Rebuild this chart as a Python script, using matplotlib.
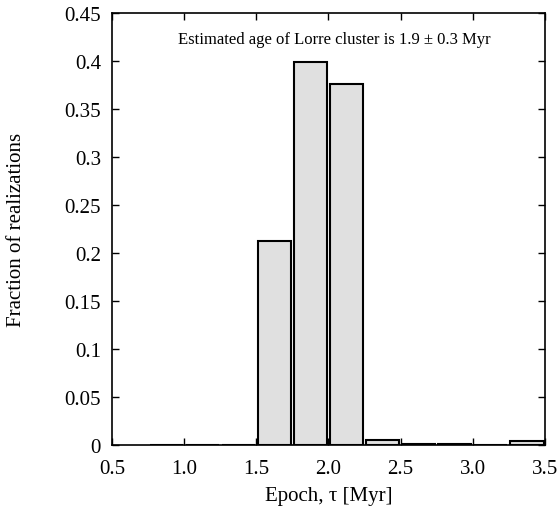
import matplotlib
matplotlib.use("Agg")
import matplotlib.pyplot as plt

bin_centers = [0.875, 1.125, 1.375, 1.625, 1.875, 2.125, 2.375, 2.625, 2.875, 3.125, 3.375]
fractions = [0.0005, 0.0005, 0.0005, 0.213, 0.399, 0.376, 0.0055, 0.001, 0.001, 0.0005, 0.004]
x_ticks = [0.5, 1.0, 1.5, 2.0, 2.5, 3.0, 3.5]
x_tick_labels = ["0.5", "1.0", "1.5", "2.0", "2.5", "3.0", "3.5"]
y_ticks = [0, 0.05, 0.1, 0.15, 0.2, 0.25, 0.3, 0.35, 0.4, 0.45]
y_tick_labels = ["0", "0.05", "0.1", "0.15", "0.2", "0.25", "0.3", "0.35", "0.4", "0.45"]
annotation = "Estimated age of Lorre cluster is 1.9 \u00b1 0.3 Myr"

plt.rcParams['font.family'] = ['Liberation Serif', 'DejaVu Serif']

fig = plt.figure(figsize=(5.58, 5.10), dpi=100)
ax = fig.add_axes([0.2007, 0.1255, 0.7760, 0.8470])

ax.bar(bin_centers, fractions, width=0.23, color='#e0e0e0', edgecolor='black', linewidth=1.5, zorder=2)

ax.set_xlim(0.5, 3.5)
ax.set_ylim(0, 0.45)
ax.set_xticks(x_ticks)
ax.set_xticklabels(x_tick_labels)
ax.set_yticks(y_ticks)
ax.set_yticklabels(y_tick_labels)
ax.tick_params(direction='in', top=True, right=True, length=5, width=1, labelsize=15)
ax.tick_params(axis='x', pad=10)
ax.tick_params(axis='y', pad=8)
for s in ax.spines.values():
    s.set_linewidth(1.2)
    s.set_zorder(3)

ax.set_xlabel("Epoch, \u03c4 [Myr]", fontsize=15, labelpad=6)
ax.set_ylabel("Fraction of realizations", fontsize=15)
ax.yaxis.set_label_coords(-0.198, 0.5)

ax.text(2.04, 0.423, annotation, ha='center', va='center', fontsize=12)

fig.savefig("out.png", dpi=100)
